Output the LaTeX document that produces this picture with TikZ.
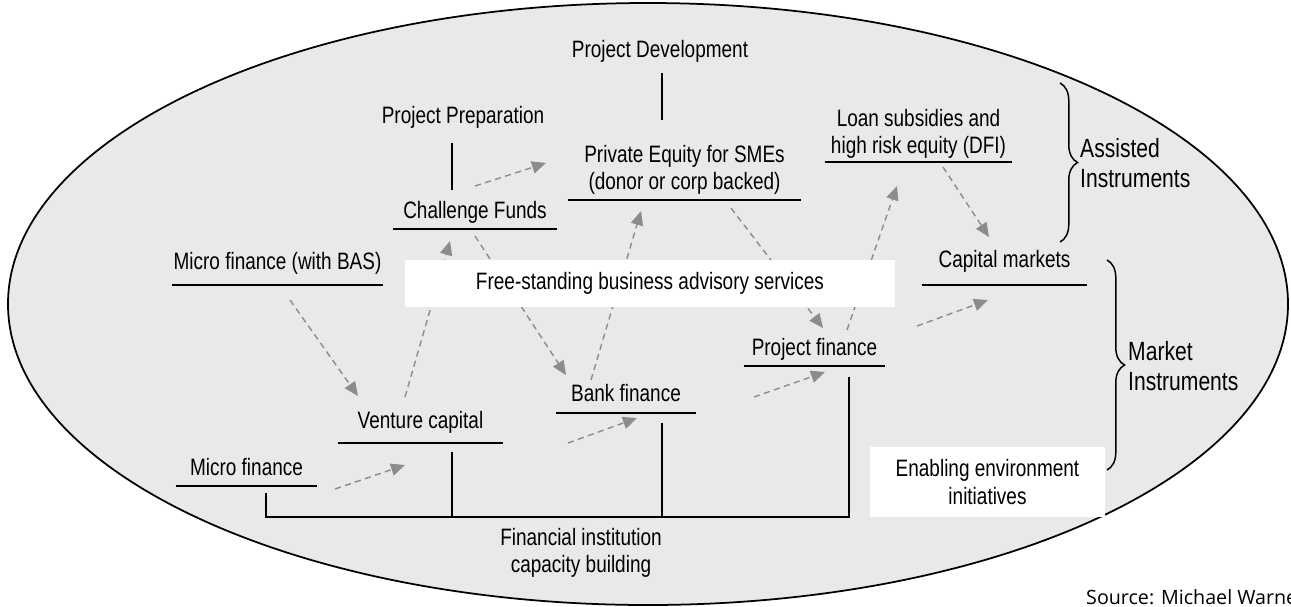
\documentclass[tikz,border=0pt]{standalone}
\usepackage{fontspec}
\setmainfont{Liberation Sans}[FakeStretch=0.8]
\newfontfamily\sourcefont{Open Sans}
\usetikzlibrary{arrows.meta,decorations.pathreplacing}
\definecolor{shade}{RGB}{233,233,233}
\definecolor{arrowgray}{RGB}{140,140,140}

\begin{document}
\begin{tikzpicture}[x=0.02cm, y=-0.02cm,
        every node/.style={font=\fontsize{13.5}{15.4}\selectfont, align=center},
        solidline/.style={draw=black, line width=0.85pt},
        item/.style={anchor=south, inner xsep=0pt, inner ysep=3pt, text depth=0.25em,
            append after command={(\tikzlastnode.south west) edge[solidline] (\tikzlastnode.south east)}},
        flow/.style={draw=arrowgray, line width=0.8pt, dash pattern=on 3.5pt off 2.5pt,
            -{Triangle[length=8pt,width=7pt,fill=arrowgray]}},
        whitebox/.style={fill=white, inner sep=0pt},
        bracket/.style={solidline, decorate, decoration={brace, amplitude=10pt}},
        side/.style={anchor=west, align=left, font=\fontsize{15}{17}\selectfont}]
        \useasboundingbox (0,0) rectangle (1291,606);
        \draw[fill=shade, line width=1pt] (648,304) ellipse [x radius=640, y radius=301];

        \node (pdev) at (660,51) {Project Development};
        \node (pprep) at (463,117) {Project Preparation};
        \node[item, minimum width=3.28cm] (cf) at (475,229) {Challenge Funds};
        \node[item, minimum width=4.66cm, inner ysep=3.3pt] (pe) at (684.5,200) {Private Equity for SMEs\\(donor or corp backed)};
        \node[item, minimum width=3.74cm, inner ysep=2.2pt] (loan) at (918.5,162) {Loan subsidies and\\high risk equity (DFI)};
        \node[item, minimum width=3.30cm, inner ysep=7.3pt] (cm) at (1004.5,285) {Capital markets};
        \node[item, minimum width=4.22cm, inner ysep=6.2pt] (mfbas) at (277.5,285) {Micro finance (with BAS)};
        \node[item, minimum width=2.82cm] (pf) at (814.5,366) {Project finance};
        \node[item, minimum width=2.80cm, inner ysep=3.9pt] (bf) at (626,413) {Bank finance};
        \node[item, minimum width=3.30cm, inner ysep=5.6pt] (vc) at (420.5,443) {Venture capital};
        \node[item, minimum width=2.82cm] (mf) at (246.5,486) {Micro finance};
        \node (fi) at (581,553) {Financial institution\\capacity building};

        \draw[solidline] ([shift={(2,22)}]pdev.center) -- ([shift={(-22.5,-80)}]pe.south);
        \draw[solidline] ([shift={(-11,26)}]pprep.center) -- ([shift={(-23,-39)}]cf.south);

        \coordinate (mftap) at ([shift={(19.5,7)}]mf.south);
        \coordinate (vctap) at ([shift={(31.5,9)}]vc.south);
        \coordinate (bftap) at ([shift={(36,10)}]bf.south);
        \coordinate (pftap) at ([shift={(34.5,11)}]pf.south);
        \coordinate (bus) at (581,517);
        \draw[solidline] (mftap) |- (bus) -| (pftap);
        \draw[solidline] (vctap) -- (vctap |- bus);
        \draw[solidline] (bftap) -- (bftap |- bus);

        \draw[flow] ([shift={(0,-43)}]cf.south) -- ([shift={(-138.5,-37)}]pe.south);
        \draw[flow] ([shift={(12.5,15)}]mfbas.south) -- ([shift={(-62.5,-47)}]vc.south);
        \draw[flow] ([shift={(-15.5,-46)}]vc.south) -- ([shift={(-25,12)}]cf.south);
        \draw[flow] ([shift={(0,7)}]cf.south) -- ([shift={(-60,-38)}]bf.south);
        \draw[flow] ([shift={(-35,-33)}]bf.south) -- ([shift={(-43.5,11)}]pe.south);
        \draw[flow] ([shift={(46.5,8)}]pe.south) -- ([shift={(8.5,-38)}]pf.south);
        \draw[flow] ([shift={(32.5,-36)}]pf.south) -- ([shift={(-21.5,24)}]loan.south);
        \draw[flow] ([shift={(24.5,5)}]loan.south) -- ([shift={(-15.5,-48)}]cm.south);
        \draw[flow] ([shift={(88.5,3)}]mf.south) -- ([shift={(-15.5,22)}]vc.south);
        \draw[flow] ([shift={(147.5,0)}]vc.south) -- ([shift={(11,5)}]bf.south);
        \draw[flow] ([shift={(128,-16)}]bf.south) -- ([shift={(10.5,6)}]pf.south);
        \draw[flow] ([shift={(102.5,-40)}]pf.south) -- ([shift={(-16.5,15)}]cm.south);

        \node[whitebox, minimum width=9.8cm, minimum height=0.94cm] (bas) at (650,283.5) {Free-standing business advisory services};
        \node[whitebox, minimum width=4.7cm, minimum height=1.4cm] (env) at (987.5,482) {Enabling environment\\initiatives};

        \draw[bracket] (1060,83) -- (1060,242);
        \draw[bracket] (1107,260) -- (1107,470);
        \node[side] (assisted) at (1074,163) {Assisted\\Instruments};
        \node[side] (market) at (1122,366) {Market\\Instruments};

        \node[anchor=west, font=\sourcefont\fontsize{11.2}{13}\selectfont] (src) at (1080,597) {Source: Michael Warne};
\end{tikzpicture}
\end{document}
